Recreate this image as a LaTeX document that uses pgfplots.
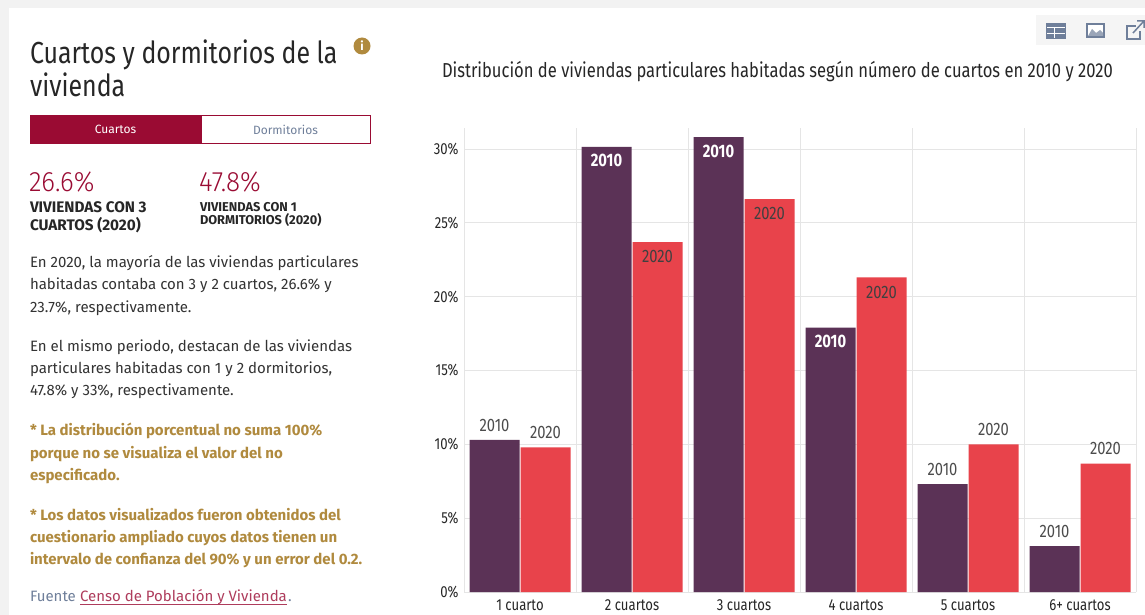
\documentclass[border=0pt]{standalone}
\usepackage{pgfplots}
\pgfplotsset{compat=1.18}
\usepackage{fontspec}
\setmainfont{Fira Sans}
\newfontfamily\cond[FakeStretch=0.82]{Fira Sans}
\newfontfamily\lightf[FakeStretch=0.93]{Fira Sans Light}
\definecolor{purp}{HTML}{5B3256}
\definecolor{redb}{HTML}{E8434B}
\definecolor{maroon}{HTML}{9A0B33}
\definecolor{ochre}{HTML}{B08A3E}
\definecolor{body}{HTML}{333333}
\definecolor{iconc}{HTML}{6F7F9A}
\newcommand{\fs}[1]{\fontsize{#1}{#1}\selectfont}
\tikzset{t/.style={anchor=base west,inner sep=0pt,outer sep=0pt}}
\begin{document}
\begin{tikzpicture}[x=1pt,y=-1pt]
\path[use as bounding box] (0,0) rectangle (1145,615);
\fill[white] (0,0) rectangle (1145,615);
\fill[black!5] (0,0) rectangle (1145,8);
\fill[black!5] (0,0) rectangle (9,615);
% heading
\node[t,text=black!85] at (30,64) {\fs{30.4}\cond Cuartos y dormitorios de la};
\node[t,text=black!85] at (30,97) {\fs{30.4}\cond vivienda};
\fill[ochre] (362,46) circle (8.5);
\node[text=white,inner sep=0pt] at (362,46) {\fs{12}\bfseries i};
% tabs
\fill[maroon] (30,115) rectangle (201,144);
\draw[maroon,line width=1pt] (201,115.5) rectangle (370.5,143.5);
\node[text=white,inner sep=0pt] at (115.5,129.5) {\fs{12}Cuartos};
\node[text=iconc,inner sep=0pt] at (285.5,129.5) {\fs{12}Dormitorios};
% stats
\node[t,text=maroon] at (29,191) {\fs{28}\lightf 26.6\%};
\node[t,text=maroon] at (199,191) {\fs{28}\lightf 47.8\%};
\node[t,text=black!85] at (30,212) {\fs{15.3}\bfseries VIVIENDAS CON 3};
\node[t,text=black!85] at (30,230) {\fs{15.3}\bfseries CUARTOS (2020)};
\node[t,text=black!85] at (200,211) {\fs{12.8}\bfseries VIVIENDAS CON 1};
\node[t,text=black!85] at (200,224) {\fs{12.8}\bfseries DORMITORIOS (2020)};
% body
\node[t,text=body] at (30,267) {\fs{15}En 2020, la mayoría de las viviendas particulares};
\node[t,text=body] at (30,289) {\fs{15}habitadas contaba con 3 y 2 cuartos, 26.6\% y};
\node[t,text=body] at (30,312) {\fs{15}23.7\%, respectivamente.};
\node[t,text=body] at (30,351) {\fs{15}En el mismo periodo, destacan de las viviendas};
\node[t,text=body] at (30,373) {\fs{15}particulares habitadas con 1 y 2 dormitorios,};
\node[t,text=body] at (30,395) {\fs{15}47.8\% y 33\%, respectivamente.};
\node[t,text=ochre] at (30,435) {\fs{15}\bfseries * La distribución porcentual no suma 100\%};
\node[t,text=ochre] at (30,458) {\fs{15}\bfseries porque no se visualiza el valor del no};
\node[t,text=ochre] at (30,480) {\fs{15}\bfseries especificado.};
\node[t,text=ochre] at (30,520) {\fs{15}\bfseries * Los datos visualizados fueron obtenidos del};
\node[t,text=ochre] at (30,542) {\fs{15}\bfseries cuestionario ampliado cuyos datos tienen un};
\node[t,text=ochre] at (30,564) {\fs{15}\bfseries intervalo de confianza del 90\% y un error del 0.2.};
\node[t,text=iconc] at (30,601) {\fs{15}Fuente};
\node[t,text=maroon!80!white] at (80,601) {\fs{15}Censo de Población y Vivienda};
\node[t,text=iconc] at (288,601) {\fs{15}.};
\draw[maroon!80!white,line width=0.7pt] (80,604) -- (287,604);
% toolbar
\fill[black!4] (1036,15) rectangle (1145,45);
\fill[iconc] (1046,23) rectangle (1066,39);
\draw[white,line width=1pt] (1047,28) -- (1065,28) (1047,33.5) -- (1065,33.5) (1054,28) -- (1054,38);
\fill[iconc] (1086,23) rectangle (1105,38);
\fill[white] (1088,25) rectangle (1103,36);
\fill[iconc!70] (1088,36) -- (1092,29) -- (1096,33) -- (1100,30) -- (1103,33) -- (1103,36) -- cycle;
\draw[iconc,line width=1.5pt] (1136,26) -- (1127,26) -- (1127,39) -- (1140,39) -- (1140,31);
\draw[iconc,line width=1.5pt] (1133,33) -- (1143,22) (1137,21) -- (1144,21) -- (1144,28);
% chart title
\node[t,text=black!85] at (442,78) {\fs{20.2}\cond Distribución de viviendas particulares habitadas según número de cuartos en 2010 y 2020};
\begin{axis}[
  at={(464pt,-592pt)},anchor=south west,scale only axis,
  width=672pt,height=464pt,
  xmin=-0.5,xmax=5.5,ymin=0,ymax=31.42,
  axis line style={draw=none},
  ybar,bar width=50pt,
  xtick={0,...,5},
  xticklabels={1 cuarto,2 cuartos,3 cuartos,4 cuartos,5 cuartos,6+ cuartos},
  xticklabel style={text=black!85,font=\fs{16}\cond,yshift=-4pt},
  minor xtick={-0.5,0.5,...,5.5},
  ytick={0,5,...,30},
  yticklabel={\pgfmathprintnumber{\tick}\%},
  yticklabel style={text=black!85,font=\fs{16}\cond,xshift=-2pt},
  /pgf/number format/assume math mode=true,
  ymajorgrids,xminorgrids,
  major grid style={draw=black!10,line width=0.8pt},
  minor grid style={draw=black!10,line width=0.8pt},
  major tick length=0pt,minor tick length=0pt,
  clip=false,
  every node near coord/.append style={font=\fs{18}\cond},
  extra y ticks={0},extra y tick labels={},
  extra y tick style={grid style={draw=black!35,line width=1pt}},
]
\addplot[draw=none,fill=purp,bar shift=-25.5pt,nodes near coords={2010},
  nodes near coords style={text=black!70,anchor=south,yshift=5pt}]
  coordinates {(0,10.3)(4,7.3)(5,3.1)};
\addplot[draw=none,fill=purp,bar shift=-25.5pt,nodes near coords={2010},
  nodes near coords style={text=white,anchor=north,font=\fs{18}\cond\bfseries,yshift=-4pt}]
  coordinates {(1,30.15)(2,30.8)(3,17.9)};
\addplot[draw=none,fill=redb,bar shift=25.5pt,nodes near coords={2020},
  nodes near coords style={text=black!70,anchor=south,yshift=5pt}]
  coordinates {(0,9.8)(4,10.0)(5,8.7)};
\addplot[draw=none,fill=redb,bar shift=25.5pt,nodes near coords={2020},
  nodes near coords style={text=black!75,anchor=north,yshift=-5pt}]
  coordinates {(1,23.7)(2,26.6)(3,21.3)};
\end{axis}
\end{tikzpicture}
\end{document}
